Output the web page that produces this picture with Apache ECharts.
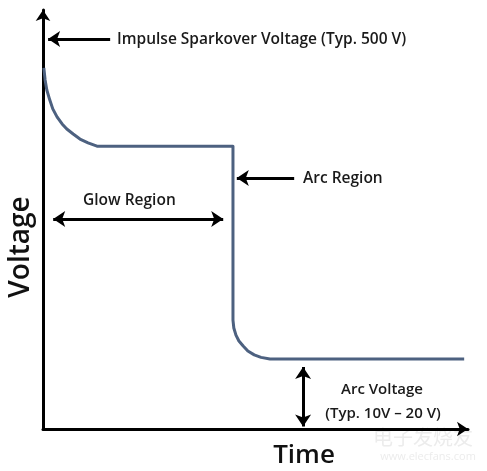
<!DOCTYPE html>
<html>
<head>
<meta charset="utf-8">
<script src="https://cdn.jsdelivr.net/npm/echarts@6/dist/echarts.min.js"></script>
<style>html,body{margin:0;padding:0;background:#fff;}#c{width:487px;height:471px;}</style>
</head>
<body>
<div id="c"></div>
<script>
// Curve (schematic, arbitrary units 0..100)
const timeVals    = [0.2, 0.5, 0.9, 1.6, 2.3, 3.3, 4.5, 5.6, 7.1, 8.7, 10.6, 12.7, 44.7, 44.7, 44.9, 45.4, 46.1, 47.1, 48.2, 49.7, 51.3, 53.4, 99.1];
const voltageVals = [86.2, 83.3, 80.9, 78.5, 76.4, 74.5, 72.8, 71.6, 70.4, 69.2, 68.3, 67.5, 67.5, 26.0, 24.1, 22.4, 21.0, 19.8, 18.6, 17.7, 17.1, 16.7, 16.7];

// Annotation arrows: [x1, y1, x2, y2] in data units, arrow heads
const impulseArrow = [15.8, 93.1, 1.2, 93.1];
const arcArrow     = [59.1, 59.9, 45.6, 59.9];
const glowArrow    = [2.4, 50.1, 42.4, 50.1];
const arcVoltArrow = [61.2, 14.8, 61.2, 0.6];

const labels = {
  impulse: 'Impulse Sparkover Voltage (Typ. 500 V)',
  arc: 'Arc Region',
  glow: 'Glow Region',
  arcV1: 'Arc Voltage',
  arcV2: '(Typ. 10V \u2013 20 V)',
  xName: 'Time',
  yName: 'Voltage'
};

const chart = echarts.init(document.getElementById('c'), null, {renderer: 'canvas'});
const curve = timeVals.map((t, i) => [t, voltageVals[i]]);
const FONT = '"Open Sans", "Noto Sans", sans-serif';

function arrowLine(a, both) {
  return [
    {coord: [a[0], a[1]], symbol: both ? 'arrow' : 'none'},
    {coord: [a[2], a[3]], symbol: 'arrow'}
  ];
}

const option = {
  animation: false,
  grid: {left: 43, right: 19, top: 10, bottom: 42},
  xAxis: {
    type: 'value', min: 0, max: 100,
    axisLine: {show: true, symbol: ['none', 'arrow'], symbolSize: [11, 11], lineStyle: {color: '#000', width: 3}},
    axisTick: {show: false}, axisLabel: {show: false}, splitLine: {show: false}
  },
  yAxis: {
    type: 'value', min: 0, max: 100,
    axisLine: {show: true, symbol: ['none', 'arrow'], symbolSize: [11, 11], lineStyle: {color: '#000', width: 3}},
    axisTick: {show: false}, axisLabel: {show: false}, splitLine: {show: false}
  },
  series: [
    {
      type: 'line', data: curve, showSymbol: false, smooth: false,
      lineStyle: {color: '#4d6180', width: 3, join: 'round'},
      z: 3
    },
    {
      type: 'line', data: [], silent: true,
      markLine: {
        silent: true, animation: false,
        symbolSize: [12, 12],
        label: {show: false},
        lineStyle: {color: '#000', width: 3, type: 'solid'},
        data: [
          arrowLine(impulseArrow, false),
          arrowLine(arcArrow, false),
          arrowLine(glowArrow, true),
          arrowLine(arcVoltArrow, true)
        ]
      }
    }
  ],
  graphic: [
    {type: 'text', left: 117, top: 32, style: {text: labels.impulse, font: '600 15.5px ' + FONT, fill: '#1a1a1a'}},
    {type: 'text', left: 303, top: 171, style: {text: labels.arc, font: '600 15.5px ' + FONT, fill: '#1a1a1a'}},
    {type: 'text', left: 83, top: 193, style: {text: labels.glow, font: '600 15.5px ' + FONT, fill: '#1a1a1a'}},
    {type: 'text', x: 382, y: 390, style: {text: labels.arcV1, font: '600 15px ' + FONT, fill: '#1a1a1a', align: 'center', verticalAlign: 'middle'}},
    {type: 'text', x: 383, y: 414, style: {text: labels.arcV2, font: '600 15px ' + FONT, fill: '#1a1a1a', align: 'center', verticalAlign: 'middle'}},
    {type: 'text', x: 304, y: 456, style: {text: labels.xName, font: '600 26px ' + FONT, fill: '#111', align: 'center', verticalAlign: 'middle'}},
    {type: 'text', x: 21, y: 247, rotation: Math.PI / 2, style: {text: labels.yName, font: '600 28px ' + FONT, fill: '#111', align: 'center', verticalAlign: 'middle'}},
    {type: 'text', x: 423, y: 437, style: {text: '电子发烧友', font: '20px "Noto Sans CJK SC"', fill: '#ececec', align: 'center', verticalAlign: 'middle'}},
    {type: 'text', x: 428, y: 457, style: {text: 'www.elecfans.com', font: '11px ' + FONT, fill: '#ececec', align: 'center', verticalAlign: 'middle'}}
  ]
};
chart.setOption(option);
</script>
</body>
</html>
